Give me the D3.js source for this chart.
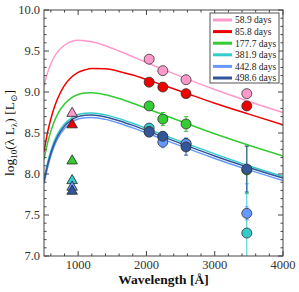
<!DOCTYPE html>
<html><head><meta charset="utf-8">
<script src="https://cdn.jsdelivr.net/npm/d3@7"></script>
<style>html,body{margin:0;padding:0;background:#fff;}</style>
</head><body>
<svg id="c" width="299" height="292"></svg>
<script>
// ---- data ----
const seriesLabels = ["58.9 days","85.8 days","177.7 days","381.9 days","442.8 days","498.6 days"];
const seriesColors = ["#ff99cc","#ee0000","#33cc33","#33cccc","#6699ff","#335599"];

const curveWave = [500,550,600,650,700,800,900,1000,1100,1200,1400,1600,1800,2000,2250,2500,3000,3500,4000];
const curvePink  = [9.07,9.23,9.34,9.43,9.49,9.57,9.615,9.63,9.626,9.612,9.565,9.50,9.43,9.36,9.275,9.19,9.03,8.885,8.75];
const curveRed   = [8.27,8.50,8.67,8.81,8.92,9.08,9.18,9.24,9.27,9.287,9.284,9.251,9.207,9.153,9.082,9.01,8.863,8.73,8.60];
const curveGreen = [8.18,8.37,8.52,8.64,8.73,8.854,8.928,8.97,8.987,8.99,8.966,8.92,8.863,8.80,8.722,8.643,8.49,8.35,8.22];
const curveCyan  = [7.93,8.13,8.28,8.40,8.49,8.61,8.683,8.726,8.742,8.745,8.721,8.675,8.618,8.555,8.477,8.398,8.245,8.10,7.97];
const curveLight = [7.88,8.07,8.22,8.34,8.43,8.554,8.628,8.67,8.687,8.69,8.666,8.62,8.563,8.50,8.422,8.343,8.19,8.05,7.92];
const curveDark  = [7.91,8.10,8.25,8.37,8.46,8.584,8.658,8.70,8.717,8.72,8.696,8.65,8.593,8.53,8.452,8.373,8.22,8.08,7.95];
const curves = [curvePink,curveRed,curveGreen,curveCyan,curveLight,curveDark];

const triWave = 912;
const triVals = [8.74,8.60,8.16,7.92,7.84,7.79];

const circWave = [2040,2240,2580,3470];
const circPink  = [9.40,9.26,9.15,8.98];
const circRed   = [9.12,9.06,8.98,8.83];
const circGreen = [8.83,8.67,8.61,8.05];
const circCyan  = [8.56,8.45,8.37,7.28];
const circLight = [8.52,8.39,8.37,7.52];
const circDark  = [8.51,8.46,8.33,8.06];
const circles = [circPink,circRed,circGreen,circCyan,circLight,circDark];
const errPink  = [0.02,0.02,0.02,0.03];
const errRed   = [0.02,0.02,0.02,0.05];
const errGreen = [0.03,0.08,0.09,0.29];
const errCyan  = [0.03,0.05,0.05,0.60];
const errLight = [0.03,0.07,0.07,0.08];
const errDark  = [0.03,0.05,0.10,0.28];
const errs = [errPink,errRed,errGreen,errCyan,errLight,errDark];

const xMajor = [1000,2000,3000,4000];
const yMajor = [7.0,7.5,8.0,8.5,9.0,9.5,10.0];

// ---- drawing ----
const svg = d3.select("#c");
const L=44,R=283,T=10,B=256;
const x = d3.scaleLinear().domain([500,4000]).range([L,R]);
const y = d3.scaleLinear().domain([7,10]).range([B,T]);
const serif = "'Liberation Serif', 'DejaVu Serif', serif";

svg.append("defs").append("clipPath").attr("id","clip")
  .append("rect").attr("x",L).attr("y",T).attr("width",R-L).attr("height",B-T);

const plot = svg.append("g").attr("clip-path","url(#clip)");
const line = d3.line().x((d,i)=>x(curveWave[i])).y(d=>y(d)).curve(d3.curveMonotoneX);
curves.forEach((c,k)=>{
  plot.append("path").attr("d",line(c)).attr("fill","none")
    .attr("stroke",seriesColors[k]).attr("stroke-width",1.5);
});

// error bars
circles.forEach((c,k)=>{
  c.forEach((v,i)=>{
    const e = errs[k][i], cx = x(circWave[i]);
    const g = plot.append("g").attr("stroke",seriesColors[k]).attr("stroke-width",1);
    g.append("line").attr("x1",cx).attr("x2",cx).attr("y1",y(v+e)).attr("y2",y(v-e));
    g.append("line").attr("x1",cx-2).attr("x2",cx+2).attr("y1",y(v+e)).attr("y2",y(v+e));
    g.append("line").attr("x1",cx-2).attr("x2",cx+2).attr("y1",y(v-e)).attr("y2",y(v-e));
  });
});

// triangles
const tri = d3.symbol().type(d3.symbolTriangle).size(48);
triVals.forEach((v,k)=>{
  plot.append("path").attr("d",tri()).attr("transform",`translate(${x(triWave)},${y(v)})`)
    .attr("fill",seriesColors[k]).attr("stroke","#222").attr("stroke-width",0.8);
});
// circles
circles.forEach((c,k)=>{
  c.forEach((v,i)=>{
    plot.append("circle").attr("cx",x(circWave[i])).attr("cy",y(v)).attr("r",5)
      .attr("fill",seriesColors[k]).attr("stroke","#333").attr("stroke-width",0.8);
  });
});

// axes with inward ticks on all sides
const ax = svg.append("g");
function ticks(scale, vals, len, side){
  vals.forEach(v=>{
    const p = scale(v);
    if(side==="x"){
      ax.append("line").attr("x1",p).attr("x2",p).attr("y1",B).attr("y2",B-len).attr("stroke","#444");
      ax.append("line").attr("x1",p).attr("x2",p).attr("y1",T).attr("y2",T+len).attr("stroke","#444");
    } else {
      ax.append("line").attr("y1",p).attr("y2",p).attr("x1",L).attr("x2",L+len).attr("stroke","#444");
      ax.append("line").attr("y1",p).attr("y2",p).attr("x1",R).attr("x2",R-len).attr("stroke","#444");
    }
  });
}
ticks(x, d3.range(600,4000,200).filter(v=>v%1000!==0), 2.5, "x");
ticks(x, xMajor, 5, "x");
ticks(y, d3.range(7.1,10,0.1).filter(v=>Math.abs(v*2-Math.round(v*2))>0.01), 2.5, "y");
ticks(y, yMajor, 5, "y");
ax.append("rect").attr("x",L).attr("y",T).attr("width",R-L).attr("height",B-T)
  .attr("fill","none").attr("stroke","#444").attr("stroke-width",1);

yMajor.forEach(v=>{
  svg.append("text").attr("x",L-4).attr("y",y(v)).attr("dy","0.35em").attr("text-anchor","end")
    .attr("font-family",serif).attr("font-size",12.5).attr("fill","#333").text(v.toFixed(1));
});
xMajor.forEach(v=>{
  svg.append("text").attr("x",x(v)).attr("y",B+13).attr("text-anchor","middle")
    .attr("font-family",serif).attr("font-size",12.5).attr("fill","#333").text(v);
});
svg.append("text").attr("x",(L+R)/2).attr("y",284).attr("text-anchor","middle")
  .attr("font-family",serif).attr("font-size",13.5).attr("font-weight","bold").attr("fill","#111")
  .text("Wavelength [Å]");
const yl = svg.append("text").attr("transform",`translate(14,${(T+B)/2}) rotate(-90)`)
  .attr("text-anchor","middle").attr("font-family",serif).attr("font-size",13.5).attr("fill","#111");
yl.append("tspan").text("log");
yl.append("tspan").attr("font-size",9).attr("dy",3).text("10");
yl.append("tspan").attr("dy",-3).text("(λ L");
yl.append("tspan").attr("font-size",9).attr("dy",3).text("λ");
yl.append("tspan").attr("dy",-3).text(") [L");
yl.append("tspan").attr("font-size",9).attr("dy",3).text("⊙");
yl.append("tspan").attr("dy",-3).text("]");

// legend
const lg = svg.append("g");
lg.append("rect").attr("x",210).attr("y",13).attr("width",69).attr("height",70)
  .attr("fill","#fff").attr("stroke","#555").attr("stroke-width",1);
seriesLabels.forEach((s,k)=>{
  const ly = 20 + k*11.6;
  lg.append("line").attr("x1",213).attr("x2",232).attr("y1",ly).attr("y2",ly)
    .attr("stroke",seriesColors[k]).attr("stroke-width",3);
  lg.append("text").attr("x",235).attr("y",ly).attr("dy","0.35em")
    .attr("font-family",serif).attr("font-size",9.5).attr("fill","#222").text(s);
});
</script>
</body></html>
